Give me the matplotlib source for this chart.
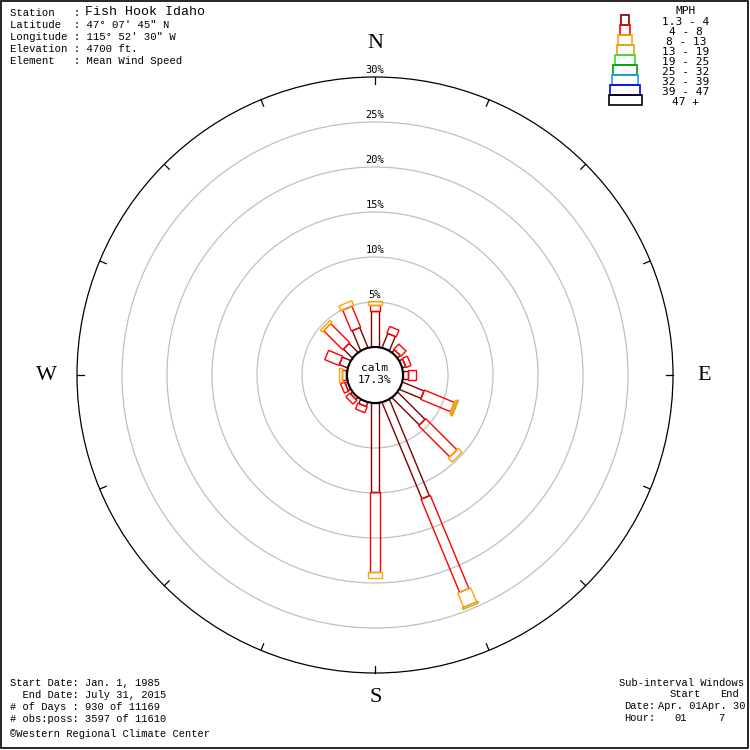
import numpy as np
import matplotlib
matplotlib.use("Agg")
import matplotlib.pyplot as plt
from matplotlib.patches import Polygon, Circle, Rectangle

# compass directions, clockwise from north
directions = ["N", "NNE", "NE", "ENE", "E", "ESE", "SE", "SSE",
              "S", "SSW", "SW", "WSW", "W", "WNW", "NW", "NNW"]
angles = np.arange(16) * 22.5

speed_labels = ["1.3 - 4", "4 - 8", "8 - 13", "13 - 19", "19 - 25",
                "25 - 32", "32 - 39", "39 - 47", "47 +"]
speed_colors = ["#800000", "#ff0000", "#ffa500", "#daa520", "#33dd33",
                "#009900", "#1e9ff0", "#0000e0", "#000000"]

# percent of observations per direction for each speed class
pct_1_4 = [4.0, 1.7, 0.4, 0.4, 0.5, 2.6, 4.3, 11.6, 9.9, 0.5, 0.3, 0.3, 0.1, 1.0, 1.4, 2.4]
pct_4_8 = [0.7, 0.8, 0.8, 0.6, 0.9, 3.6, 4.9, 11.2, 8.9, 0.7, 0.6, 0.5, 0.5, 1.7, 3.0, 2.5]
pct_8_13 = [0.4, 0, 0, 0, 0, 0.2, 0.6, 1.7, 0.6, 0, 0, 0, 0.25, 0, 0.3, 0.6]
pct_13_19 = [0, 0, 0, 0, 0, 0.15, 0, 0.2, 0, 0, 0, 0, 0, 0, 0, 0]
zeros = [0] * 16
calm_pct = 17.3
rings = [5, 10, 15, 20, 25, 30]

CX, CY = 375, 375
CALM_R = 28
PX_PER_PCT = 9.0
seg_widths = [8, 10, 14, 17, 20, 24, 26, 30, 33]


def rad(p):
    return CALM_R + PX_PER_PCT * p


def draw_plot():
    classes = [pct_1_4, pct_4_8, pct_8_13, pct_13_19, zeros, zeros, zeros, zeros, zeros]
    fig = plt.figure(figsize=(7.5, 7.5), dpi=100)
    ax = fig.add_axes([0, 0, 1, 1])
    ax.set_xlim(0, 750)
    ax.set_ylim(750, 0)
    ax.axis("off")

    mono = "Liberation Mono"
    mono2 = "DejaVu Sans Mono"

    # rings
    for r in rings:
        col = "black" if r == 30 else "#c0c0c0"
        ax.add_patch(Circle((CX, CY), rad(r), fill=False, ec=col, lw=0.9, zorder=1))
        ax.text(CX, CY - rad(r) - 7, f"{r}%", ha="center", va="center",
                fontsize=7.5, family=mono2, zorder=2)

    # ticks on outer circle
    for a in angles:
        t = np.radians(a)
        r0, r1 = rad(30), rad(30) - 7
        ax.plot([CX + r0 * np.sin(t), CX + r1 * np.sin(t)],
                [CY - r0 * np.cos(t), CY - r1 * np.cos(t)], color="black", lw=0.9)

    # stacked bars
    for i, a in enumerate(angles):
        t = np.radians(a)
        u = np.array([np.sin(t), -np.cos(t)])
        v = np.array([np.cos(t), np.sin(t)])
        c = np.array([CX, CY])
        cum = 0.0
        for k, vals in enumerate(classes):
            p = vals[i]
            if p <= 0:
                continue
            r0, r1 = rad(cum), rad(cum + p)
            hw = seg_widths[k] / 2
            pts = [c + r0 * u - hw * v, c + r1 * u - hw * v,
                   c + r1 * u + hw * v, c + r0 * u + hw * v]
            ax.add_patch(Polygon(pts, closed=True, fill=False,
                                 ec=speed_colors[k], lw=1.0, zorder=3))
            cum += p

    # calm circle
    ax.add_patch(Circle((CX, CY), CALM_R, fc="white", ec="black", lw=1.5, zorder=5))
    ax.text(CX, CY - 7, "calm", ha="center", va="center", fontsize=8, family=mono2, zorder=6)
    ax.text(CX, CY + 5, f"{calm_pct}%", ha="center", va="center", fontsize=8, family=mono2, zorder=6)

    # compass letters
    for lab, x, y in [("N", 375, 44), ("E", 704, 376), ("S", 376, 698), ("W", 46, 376)]:
        ax.text(x, y, lab, ha="center", va="center", fontsize=16,
                family="Liberation Serif")

    # legend
    for k in range(9):
        w = seg_widths[k]
        ax.add_patch(Rectangle((625 - w / 2, 15 + 10 * k), w, 10, fill=False,
                               ec=speed_colors[k], lw=1.2))
        ax.text(686, 22 + 10 * k, speed_labels[k], ha="center", va="center",
                fontsize=8, family=mono2)
    ax.text(686, 11, "MPH", ha="center", va="center", fontsize=8, family=mono2)

    # header
    header = ["Station   : ", "Latitude  : 47\u00b0 07' 45\" N",
              "Longitude : 115\u00b0 52' 30\" W", "Elevation : 4700 ft.",
              "Element   : Mean Wind Speed"]
    for j, line in enumerate(header):
        ax.text(10, 13 + 12 * j, line, ha="left", va="center", fontsize=7.7, family=mono)
    ax.text(85, 12, "Fish Hook Idaho", ha="left", va="center", fontsize=9.5, family=mono)

    # footer left
    footer = ["Start Date: Jan. 1, 1985", "  End Date: July 31, 2015",
              "# of Days : 930 of 11169", "# obs:poss: 3597 of 11610",
              "\u00a9Western Regional Climate Center"]
    for j, line in enumerate(footer):
        y = 683 + 12 * j + (3 if j == 4 else 0)
        ax.text(10, y, line, ha="left", va="center", fontsize=7.5, family=mono)

    # footer right
    ax.add_patch(Rectangle((1, 1), 747, 747, fill=False, ec="black", lw=1.2, zorder=10))
    right = [(619, 683, "Sub-interval Windows"), (670, 694, "Start"), (720, 694, "End"),
             (624, 706, "Date:"), (658, 706, "Apr. 01Apr. 30"),
             (624, 718, "Hour:"), (674, 718, "01"), (718, 718, "7")]
    for x, y, s in right:
        ax.text(x, y, s, ha="left", va="center", fontsize=7.5, family=mono)

    return fig


if __name__ == "__main__":
    fig = draw_plot()
    fig.savefig("out.png", dpi=100)
